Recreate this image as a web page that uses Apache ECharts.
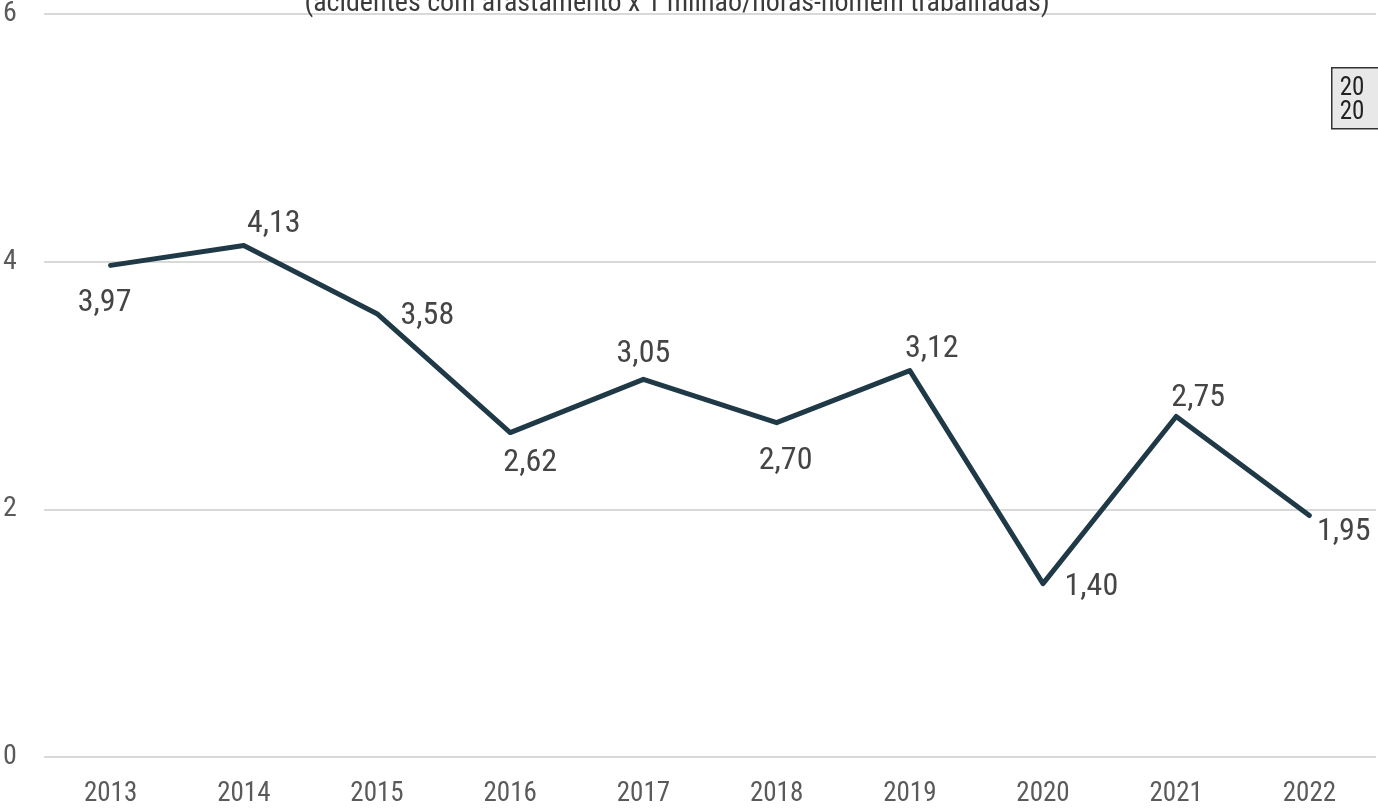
<!DOCTYPE html>
<html><head><meta charset="utf-8">
<script src="https://cdn.jsdelivr.net/npm/echarts@6/dist/echarts.min.js"></script>
<style>html,body{margin:0;padding:0;background:#fff;overflow:hidden}#c{width:1378px;height:808px}</style>
</head><body><div id="c"></div>
<script>
const categories = ['2013','2014','2015','2016','2017','2018','2019','2020','2021','2022'];
const values = [3.97, 4.13, 3.58, 2.62, 3.05, 2.70, 3.12, 1.40, 2.75, 1.95];
const yTicks = [0, 2, 4, 6];
const subtitle = '(acidentes com afastamento x 1 milhão/horas-homem trabalhadas)';
const legendTexts = ['20', '20'];
const FONT = '"Liberation Sans Narrow", "Roboto Condensed", Roboto';

const labelPlacement = [
  {position:'bottom', distance:21, offset:[-6,0]},
  {position:'top', distance:5, offset:[30,0]},
  {position:'right', distance:23, offset:[0,2]},
  {position:'bottom', distance:14, offset:[20,0]},
  {position:'top', distance:9, offset:[0,0]},
  {position:'bottom', distance:22, offset:[9,0]},
  {position:'top', distance:5, offset:[22,0]},
  {position:'right', distance:21, offset:[0,3]},
  {position:'top', distance:2, offset:[22,0]},
  {position:'right', distance:7, offset:[0,16]}
];

const chart = echarts.init(document.getElementById('c'));
chart.setOption({
  animation:false,
  textStyle:{fontFamily:FONT},
  title:{text:subtitle, left:672, textAlign:'center', top:-15,
    textStyle:{fontSize:28, fontWeight:'normal', color:'#3a3a3a', fontFamily:FONT}},
  grid:{left:41, right:2, top:14, bottom:50, containLabel:false},
  xAxis:{type:'category', data:categories, boundaryGap:true,
    axisLine:{show:false}, axisTick:{show:false},
    axisLabel:{fontSize:27, color:'#5a5a5a', margin:24, fontFamily:FONT}},
  yAxis:{type:'value', min:0, max:6, interval:2,
    axisLabel:{fontSize:28, color:'#5a5a5a', margin:41, align:'left', fontFamily:FONT,
      formatter:v=>yTicks.includes(v)?String(v):''},
    splitLine:{lineStyle:{color:'#d9d9d9', width:2}}},
  series:[{type:'line', data:values.map((v,i)=>({value:v, label:labelPlacement[i]})),
    symbol:'circle', symbolSize:1, itemStyle:{color:'#1f3a46'},
    lineStyle:{color:'#1f3a46', width:5, cap:'round', join:'round'},
    label:{show:true, fontSize:32, color:'#454545', fontFamily:FONT,
      formatter:p=>p.value.toFixed(2).replace('.',',')}}],
  graphic:[{type:'group', left:1331, top:67, children:[
    {type:'rect', shape:{x:0,y:0,width:60,height:61}, style:{fill:'#e8e8e8', stroke:'#333', lineWidth:1.5}},
    {type:'text', x:8, y:8, style:{text:legendTexts[0], fontSize:25, fill:'#222', fontFamily:FONT}},
    {type:'text', x:8, y:32, style:{text:legendTexts[1], fontSize:25, fill:'#222', fontFamily:FONT}}
  ]}]
});
</script></body></html>
